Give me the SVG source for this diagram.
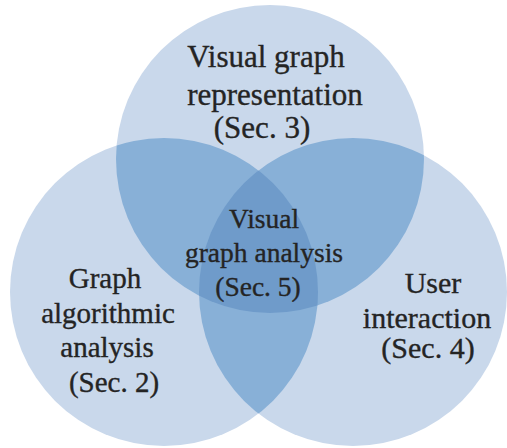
<svg xmlns="http://www.w3.org/2000/svg" width="507" height="448" viewBox="0 0 507 448">
<style>
.single{fill:#c9d8eb}
.double{fill:#88b0d7}
.triple{fill:#6f9bca}
text{font-family:"Liberation Serif","Times New Roman",serif;fill:#242424;stroke:#242424;stroke-width:0.35px;text-anchor:middle}
.t{font-size:31px}
.m{font-size:27.5px}
.l{font-size:29px}
.r{font-size:30px}
</style>
<defs>
<circle id="cT" cx="270" cy="159" r="154"/>
<circle id="cL" cx="164" cy="292" r="154"/>
<circle id="cR" cx="353" cy="292" r="154"/>
<clipPath id="clipT"><use href="#cT"/></clipPath>
<clipPath id="clipL"><use href="#cL"/></clipPath>
</defs>
<rect width="507" height="448" fill="#ffffff"/>
<g id="regions">
<use href="#cL" class="single"/>
<use href="#cR" class="single"/>
<use href="#cT" class="single"/>
<g clip-path="url(#clipT)">
<use href="#cL" class="double"/>
<use href="#cR" class="double"/>
</g>
<g clip-path="url(#clipL)">
<use href="#cR" class="double"/>
</g>
<g clip-path="url(#clipT)">
<g clip-path="url(#clipL)">
<use href="#cR" class="triple"/>
</g>
</g>
</g>
<g id="node-visual-representation">
<text class="t" x="266" y="67">Visual graph</text>
<text class="t" x="275" y="105">representation</text>
<text class="t" x="262" y="138">(Sec. 3)</text>
</g>
<g id="node-algorithmic-analysis">
<text class="l" x="105" y="288">Graph</text>
<text class="l" x="108" y="323">algorithmic</text>
<text class="l" x="107" y="357">analysis</text>
<text class="l" x="114" y="392">(Sec. 2)</text>
</g>
<g id="node-user-interaction">
<text class="r" x="433" y="293">User</text>
<text class="r" x="427" y="328">interaction</text>
<text class="r" x="428" y="358">(Sec. 4)</text>
</g>
<g id="node-visual-analysis">
<text class="m" x="264" y="228">Visual</text>
<text class="m" x="264" y="262">graph analysis</text>
<text class="m" x="258" y="296">(Sec. 5)</text>
</g>
</svg>
